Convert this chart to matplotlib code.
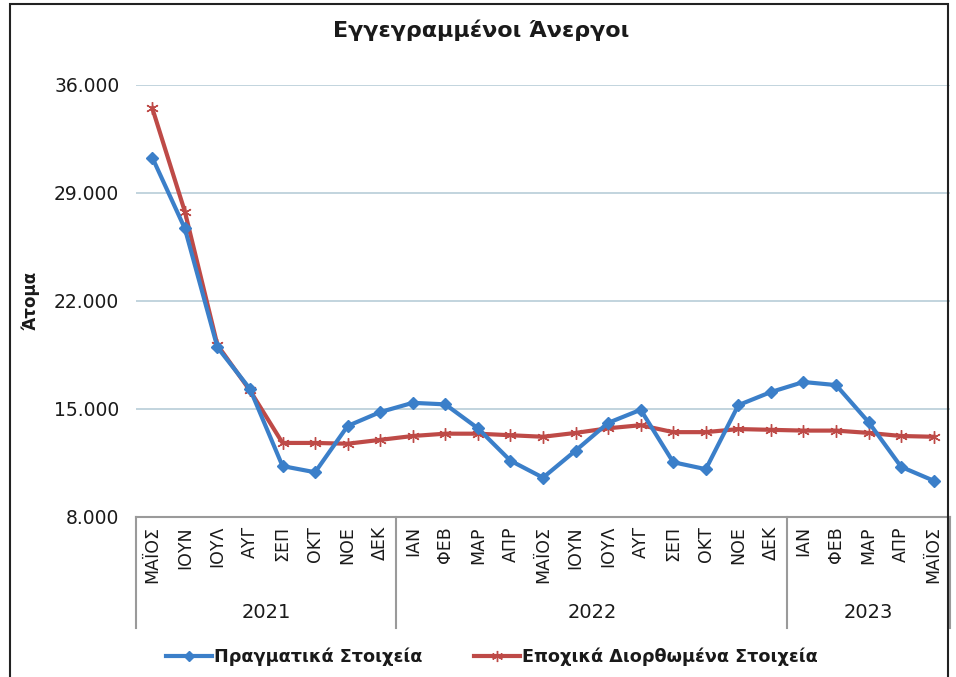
import matplotlib
matplotlib.use("Agg")
import matplotlib.pyplot as plt
from matplotlib.lines import Line2D
from matplotlib.patches import Rectangle
import matplotlib.transforms as mtransforms

months = ["ΜΑΪΟΣ", "ΙΟΥΝ", "ΙΟΥΛ", "ΑΥΓ", "ΣΕΠ", "ΟΚΤ", "ΝΟΕ", "ΔΕΚ",
          "ΙΑΝ", "ΦΕΒ", "ΜΑΡ", "ΑΠΡ", "ΜΑΪΟΣ", "ΙΟΥΝ", "ΙΟΥΛ", "ΑΥΓ", "ΣΕΠ", "ΟΚΤ", "ΝΟΕ", "ΔΕΚ",
          "ΙΑΝ", "ΦΕΒ", "ΜΑΡ", "ΑΠΡ", "ΜΑΪΟΣ"]
years = ["2021", "2022", "2023"]
year_counts = [8, 12, 5]

actual = [31300, 26700, 19000, 16300, 11300, 10900, 13900, 14800,
          15400, 15300, 13750, 11650, 10550, 12300, 14100, 14950, 11550, 11100, 15250, 16100,
          16750, 16550, 14150, 11250, 10350]
seasonal = [34500, 27800, 19150, 16200, 12800, 12800, 12750, 13000,
            13250, 13400, 13400, 13300, 13200, 13450, 13750, 13950, 13500, 13500, 13700, 13650,
            13600, 13600, 13450, 13250, 13200]

yticks = [8000, 15000, 22000, 29000, 36000]
ytick_labels = ["8.000", "15.000", "22.000", "29.000", "36.000"]

series_names = ["Πραγματικά Στοιχεία", "Εποχικά Διορθωμένα Στοιχεία"]
title = "Εγγεγραμμένοι Άνεργοι"
ylabel = "Άτομα"

blue = "#3b7fc9"
red = "#be4a47"
axis_gray = "#9a9a9a"
grid_col = "#b8cdd8"

W, H = 956, 677
fig = plt.figure(figsize=(W / 100, H / 100), dpi=100)
fig.patch.set_facecolor("white")

x0, x1, ytop, ybot = 136, 950, 85, 517
ax = fig.add_axes([x0 / W, 1 - ybot / H, (x1 - x0) / W, (ybot - ytop) / H])

n = len(months)
xs = list(range(n))
ax.plot(xs, actual, color=blue, lw=3, marker="D", ms=6.5, mfc=blue, mec=blue, zorder=4)
ax.plot(xs, seasonal, color=red, lw=3, marker=(6, 2, 0), ms=9, mew=1.0,
        mec=red, zorder=3)

ax.set_xlim(-0.5, n - 0.5)
ax.set_ylim(8000, 36000)
ax.set_yticks(yticks)
ax.set_yticklabels(ytick_labels, fontsize=13.5, color="#1a1a1a")
ax.tick_params(axis="y", length=0, pad=12)
ax.set_xticks([])
ax.grid(axis="y", color=grid_col, lw=1.2)
ax.set_axisbelow(True)
for s in ["left", "right", "top"]:
    ax.spines[s].set_visible(False)
ax.spines["bottom"].set_color(axis_gray)
ax.spines["bottom"].set_linewidth(1.5)

trans = mtransforms.blended_transform_factory(ax.transData, ax.transAxes)
ax_h = ybot - ytop
def ay(py):
    return (ybot - py) / ax_h

for i, m in enumerate(months):
    ax.text(i, ay(526), m, rotation=90, ha="center", va="top", fontsize=12.5,
            color="#1a1a1a", transform=trans, clip_on=False)

# year separators and labels
bounds = [-0.5]
for c in year_counts:
    bounds.append(bounds[-1] + c)
for b in bounds:
    ax.add_line(Line2D([b, b], [0, ay(628)], transform=trans, color=axis_gray,
                       lw=1.5, clip_on=False))
for k, yr in enumerate(years):
    cx = (bounds[k] + bounds[k + 1]) / 2
    ax.text(cx, ay(612), yr, ha="center", va="center", fontsize=14,
            color="#1a1a1a", transform=trans, clip_on=False)

fig.text(481 / W, 1 - 30 / H, title, ha="center", va="center", fontsize=16,
         fontweight="bold", color="#1a1a1a")
fig.text(30 / W, 1 - 300 / H, ylabel, ha="center", va="center", rotation=90,
         fontsize=12, fontweight="bold", color="#1a1a1a")

handles = [Line2D([], [], color=blue, lw=3, marker="D", ms=5, mfc=blue, mec=blue),
           Line2D([], [], color=red, lw=3, marker=(6, 2, 0), ms=8, mec=red)]
leg = fig.legend(handles, series_names, loc="center", bbox_to_anchor=(492 / W, 1 - 657 / H),
                 ncol=2, frameon=False, handlelength=2.6, handletextpad=0.15,
                 columnspacing=2.9, borderpad=0, prop={"size": 12.7, "weight": "bold"})
for t in leg.get_texts():
    t.set_color("#1a1a1a")

fig.add_artist(Rectangle((10 / W, -0.02), (948 - 10) / W, 1.02 - 4 / H,
                         transform=fig.transFigure, fill=False, ec="#222222", lw=1.5))

fig.savefig("out.png", dpi=100, facecolor="white")
